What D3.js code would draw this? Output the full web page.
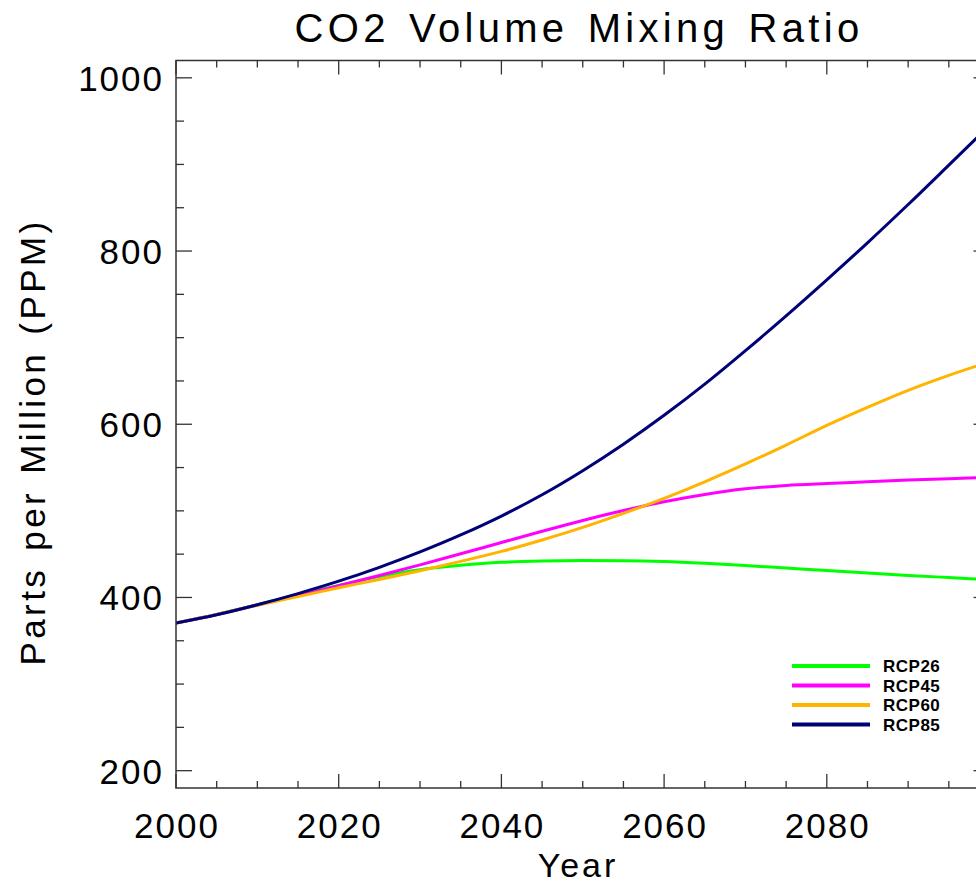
<!DOCTYPE html>
<html lang="en">
<head>
    <meta charset="UTF-8">
    <title>CO2 Volume Mixing Ratio</title>
    <script src="https://d3js.org/d3.v7.min.js"></script>
    <style>
        html, body {
            margin: 0;
            padding: 0;
            background: white;
        }
        svg text {
            font-family: "Liberation Sans", Arial, sans-serif;
            fill: black;
        }
        .legend text {
            font-weight: bold;
            font-size: 17px;
        }
    </style>
</head>
<body>
<div id="chart"></div>
<script>
    // years on a 5-year step, values in ppm
    const years = [2000, 2005, 2010, 2015, 2020, 2025, 2030, 2035, 2040, 2045, 2050,
                   2055, 2060, 2065, 2070, 2075, 2080, 2085, 2090, 2095, 2100];
    const rcp26 = [370.5, 380.4, 391.6, 403.1, 414.0, 424.2, 432.1, 437.1, 440.6, 442.2, 442.8,
                   442.5, 441.4, 439.4, 436.9, 434.0, 431.0, 428.2, 425.5, 423.0, 420.5];
    const rcp45 = [370.5, 380.3, 391.3, 402.1, 413.5, 425.3, 437.6, 450.4, 463.4, 476.4, 488.9,
                   500.4, 510.6, 519.0, 525.4, 529.4, 531.6, 533.5, 535.5, 537.2, 538.7];
    const rcp60 = [370.5, 380.3, 391.1, 401.0, 411.3, 420.8, 430.9, 441.7, 453.2, 466.4, 480.9,
                   497.1, 514.5, 533.6, 554.2, 576.0, 598.8, 619.6, 639.2, 656.5, 672.0];
    const rcp85 = [370.5, 380.0, 391.6, 404.5, 418.8, 434.8, 452.6, 472.2, 494.0, 518.6, 546.4,
                   577.0, 610.3, 646.3, 685.0, 725.2, 766.8, 809.5, 853.7, 899.2, 945.0];

    const seriesNames = ["RCP26", "RCP45", "RCP60", "RCP85"];
    const seriesColors = ["#00ff00", "#ff00ff", "#ffb400", "#000078"];
    const seriesValues = [rcp26, rcp45, rcp60, rcp85];

    const xTicks = [2000, 2020, 2040, 2060, 2080];
    const yTicks = [200, 400, 600, 800, 1000];

    const width = 976, height = 884;
    const plotL = 176, plotR = 989.5, plotT = 60.5, plotB = 788;

    const svg = d3.select("#chart")
        .append("svg")
        .attr("width", width)
        .attr("height", height);

    const x = d3.scaleLinear().domain([2000, 2100]).range([plotL, plotR]);
    const y = d3.scaleLinear().domain([180, 1020]).range([plotB, plotT]);

    // clip for the curves
    svg.append("clipPath").attr("id", "plot")
        .append("rect")
        .attr("x", plotL).attr("y", plotT)
        .attr("width", plotR - plotL).attr("height", plotB - plotT);

    const line = d3.line()
        .x((d, i) => x(years[i]))
        .y(d => y(d))
        .curve(d3.curveMonotoneX);

    svg.append("g")
        .attr("clip-path", "url(#plot)")
        .selectAll("path")
        .data(seriesValues)
        .enter().append("path")
        .attr("d", line)
        .attr("fill", "none")
        .attr("stroke", (d, i) => seriesColors[i])
        .attr("stroke-width", 3);

    // frame
    const axisColor = "#333";
    svg.append("rect")
        .attr("x", plotL).attr("y", plotT)
        .attr("width", plotR - plotL).attr("height", plotB - plotT)
        .attr("fill", "none")
        .attr("stroke", axisColor)
        .attr("stroke-width", 1.5);

    // x ticks, every 5 years, bottom and top, pointing inward
    const xMinor = d3.range(2000, 2101, 5);
    const gx = svg.append("g").attr("stroke", axisColor).attr("stroke-width", 1.3);
    xMinor.forEach(t => {
        const len = t % 20 === 0 ? 14 : 7;
        gx.append("line").attr("x1", x(t)).attr("x2", x(t))
            .attr("y1", plotB).attr("y2", plotB - len);
        gx.append("line").attr("x1", x(t)).attr("x2", x(t))
            .attr("y1", plotT).attr("y2", plotT + len);
    });

    // y ticks, every 50 ppm, left and right
    const yMinor = d3.range(200, 1001, 50);
    const gy = svg.append("g").attr("stroke", axisColor).attr("stroke-width", 1.3);
    yMinor.forEach(v => {
        const len = v % 200 === 0 ? 16 : 8;
        gy.append("line").attr("x1", plotL).attr("x2", plotL + len)
            .attr("y1", y(v)).attr("y2", y(v));
        gy.append("line").attr("x1", plotR).attr("x2", plotR - len)
            .attr("y1", y(v)).attr("y2", y(v));
    });

    // tick labels
    svg.append("g").selectAll("text")
        .data(xTicks)
        .enter().append("text")
        .attr("x", d => x(d) + 1)
        .attr("y", 838)
        .attr("text-anchor", "middle")
        .style("font-size", "35px")
        .style("letter-spacing", "2px")
        .text(d => d);

    svg.append("g").selectAll("text")
        .data(yTicks)
        .enter().append("text")
        .attr("x", 164)
        .attr("y", d => y(d) + 13)
        .attr("text-anchor", "end")
        .style("font-size", "35px")
        .style("letter-spacing", "2px")
        .text(d => d);

    // titles
    svg.append("text")
        .attr("x", 579)
        .attr("y", 42)
        .attr("text-anchor", "middle")
        .style("font-size", "40px")
        .style("letter-spacing", "4.3px")
        .style("word-spacing", "4px")
        .text("CO2 Volume Mixing Ratio");

    svg.append("text")
        .attr("x", 578)
        .attr("y", 877)
        .attr("text-anchor", "middle")
        .style("font-size", "34px")
        .style("letter-spacing", "3px")
        .text("Year");

    svg.append("text")
        .attr("transform", "translate(45, 442) rotate(-90)")
        .attr("text-anchor", "middle")
        .style("font-size", "35px")
        .style("letter-spacing", "3.4px")
        .style("word-spacing", "3px")
        .text("Parts per Million (PPM)");

    // legend
    const legend = svg.append("g").attr("class", "legend");
    seriesNames.forEach((name, i) => {
        const ly = 666 + i * 19.5;
        legend.append("line")
            .attr("x1", 792).attr("x2", 870)
            .attr("y1", ly).attr("y2", ly)
            .attr("stroke", seriesColors[i])
            .attr("stroke-width", 4);
        legend.append("text")
            .attr("x", 883)
            .attr("y", ly + 6)
            .style("letter-spacing", "0.5px")
            .text(name);
    });
</script>
</body>
</html>
